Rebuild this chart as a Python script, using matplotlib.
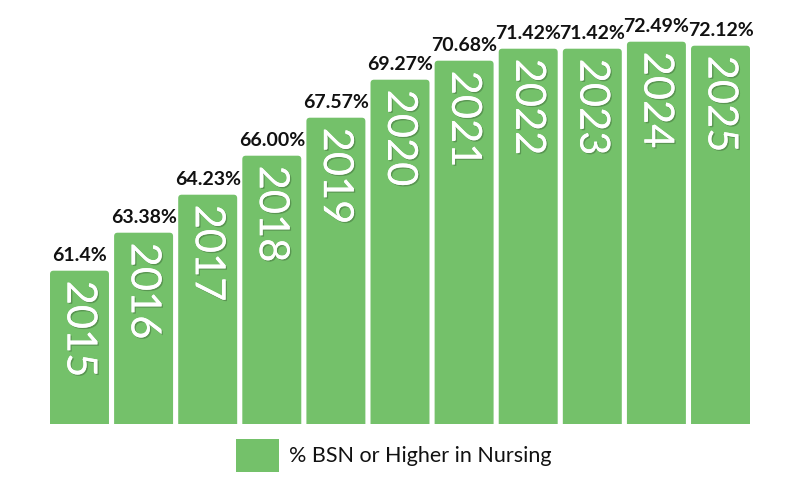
import matplotlib
matplotlib.use("Agg")
import matplotlib.pyplot as plt
import matplotlib.patheffects as pe
from matplotlib.patches import FancyBboxPatch, Patch

# data
years = ["2015", "2016", "2017", "2018", "2019", "2020",
         "2021", "2022", "2023", "2024", "2025"]
value_labels = ["61.4%", "63.38%", "64.23%", "66.00%", "67.57%", "69.27%",
                "70.68%", "71.42%", "71.42%", "72.49%", "72.12%"]
# drawn bar heights (chart units, bars are not to scale with labels)
bar_heights = [153, 191, 229, 268, 306, 344, 363, 375, 375, 382, 378]
series_name = "% BSN or Higher in Nursing"

green = "#74C16A"
plt.rcParams['font.family'] = ['Lato', 'DejaVu Sans']

fig = plt.figure(figsize=(8, 5), dpi=100)
# axes spans bar region: x 50..750 px, y baseline 423.7 px up to top of figure
ax = fig.add_axes([50 / 800, (500 - 423.7) / 500, 700 / 800, 423.7 / 500])
ax.set_xlim(-0.46, len(years) - 1 + 0.46)
ax.set_ylim(0, 423.7)
ax.axis("off")

bars = ax.bar(range(len(years)), bar_heights, width=0.92, color=green)
px_x = 700 / (len(years) - 1 + 0.92)  # px per x unit
for b in bars:
    b.set_visible(False)
    x0, w, h = b.get_x(), b.get_width(), b.get_height()
    rp = FancyBboxPatch((x0, -20), w, h + 20,
                        boxstyle="round,pad=0,rounding_size=%f" % (3.5 / px_x),
                        mutation_aspect=px_x, facecolor=green,
                        edgecolor="none", clip_on=True)
    ax.add_patch(rp)

shadow = [pe.withSimplePatchShadow(offset=(1, -1), shadow_rgbFace="black", alpha=0.22),
          pe.Normal()]
for i, (yr, lab, h) in enumerate(zip(years, value_labels, bar_heights)):
    ax.text(i, h + 7, lab, ha="center", va="bottom", fontsize=14,
            fontweight="bold", color="#111111")
    ax.text(i, h - 10, yr, ha="center", va="top", rotation=-90,
            fontsize=30, color="white", path_effects=shadow)

handle = Patch(facecolor=green, edgecolor="none")
fig.legend([handle], [series_name], loc="center left",
           bbox_to_anchor=(236 / 800, (500 - 455.5) / 500),
           frameon=False, fontsize=15.5, handlelength=2.0, handleheight=2.0,
           handletextpad=0.45, borderpad=0, borderaxespad=0,
           labelcolor="#111111")

fig.savefig("out.png", dpi=100)
